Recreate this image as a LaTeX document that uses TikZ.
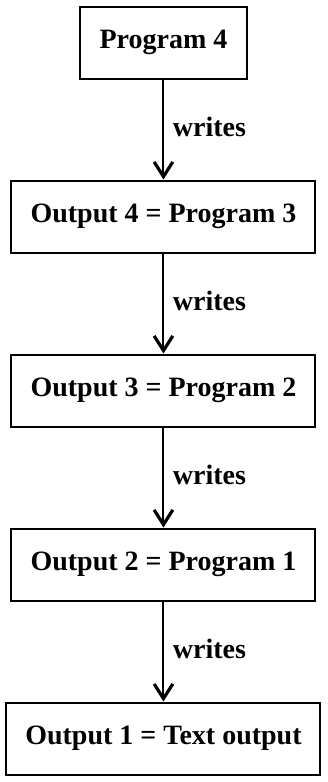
\documentclass[tikz,border=0pt]{standalone}
\usepackage{fontspec}
\setmainfont{Liberation Serif}
\usetikzlibrary{arrows.meta}

\begin{document}
\begin{tikzpicture}[x=1pt, y=1pt, every node/.style={font=\fontsize{21}{25}\selectfont\bfseries}]
  \useasboundingbox (0,0) rectangle (246,-586.5);
  \tikzset{progbox/.style={draw, line width=1.5pt, minimum height=54, inner sep=0pt},
           writes/.style={-{Straight Barb[length=11pt,width=14pt,line width=2.4pt]}, line width=1.5pt}}

  \node[progbox, minimum width=125] (P4) at (122.6,-31.9) {Program 4};
  \node[progbox, minimum width=228] (O4) at (122.6,-162.4) {Output 4 = Program 3};
  \node[progbox, minimum width=228] (O3) at (122.6,-292.9) {Output 3 = Program 2};
  \node[progbox, minimum width=228] (O2) at (122.6,-423.4) {Output 2 = Program 1};
  \node[progbox, minimum width=235.5] (O1) at (122.6,-553.9) {Output 1 = Text output};

  \draw[writes] (P4) -- node[right, xshift=3pt, yshift=2pt]{writes} (O4);
  \draw[writes] (O4) -- node[right, xshift=3pt, yshift=2pt]{writes} (O3);
  \draw[writes] (O3) -- node[right, xshift=3pt, yshift=2pt]{writes} (O2);
  \draw[writes] (O2) -- node[right, xshift=3pt, yshift=2pt]{writes} (O1);
\end{tikzpicture}
\end{document}
